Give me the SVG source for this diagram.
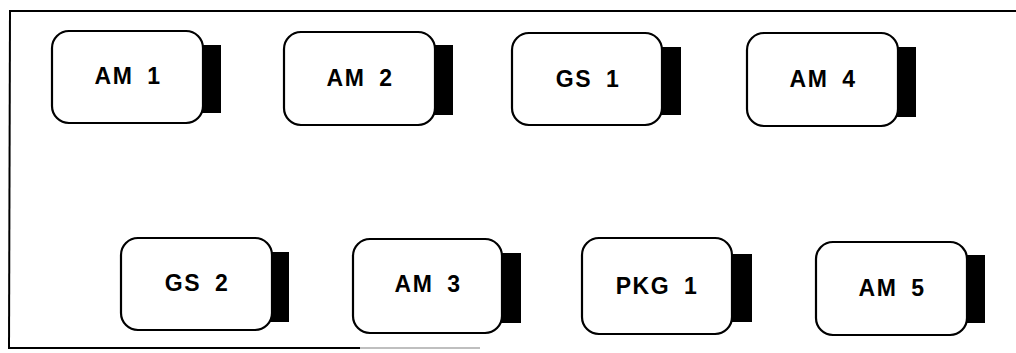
<svg xmlns="http://www.w3.org/2000/svg" width="1016" height="353" viewBox="0 0 1016 353">
<style>
.body{fill:#fff;stroke:#000;stroke-width:2.2}
.tab{fill:#000}
.lbl{font-family:"Liberation Sans",Arial,sans-serif;font-weight:bold;font-size:23px;letter-spacing:1.5px;word-spacing:6px;text-anchor:middle;fill:#000}
.frame{stroke:#000;stroke-width:2;fill:none}
</style>
<rect width="1016" height="353" fill="#fff"/>
<g id="frame">
<line class="frame" x1="9" y1="11" x2="1016" y2="11"/>
<line class="frame" x1="10" y1="10" x2="9" y2="349"/>
<line class="frame" x1="8" y1="348" x2="360" y2="348"/>
<line x1="360" y1="348" x2="480" y2="348" stroke="#aaa" stroke-width="1.5"/>
</g>
<g id="am1"><rect class="tab" x="201" y="45" width="20" height="68"/><rect class="body" x="52" y="31" width="151" height="92" rx="17"/><text class="lbl" x="128" y="84">AM 1</text></g>
<g id="am2"><rect class="tab" x="433" y="45" width="20" height="70"/><rect class="body" x="284" y="32" width="151" height="93" rx="17"/><text class="lbl" x="360" y="86">AM 2</text></g>
<g id="gs1"><rect class="tab" x="660" y="47" width="21" height="68"/><rect class="body" x="512" y="33" width="150" height="92" rx="17"/><text class="lbl" x="588" y="87">GS 1</text></g>
<g id="am4"><rect class="tab" x="896" y="47" width="20" height="70"/><rect class="body" x="747" y="33" width="151" height="93" rx="17"/><text class="lbl" x="823" y="87">AM 4</text></g>
<g id="gs2"><rect class="tab" x="270" y="252" width="19" height="70"/><rect class="body" x="121" y="238" width="151" height="92" rx="17"/><text class="lbl" x="197" y="291">GS 2</text></g>
<g id="am3"><rect class="tab" x="500" y="253" width="21" height="70"/><rect class="body" x="353" y="239" width="149" height="94" rx="17"/><text class="lbl" x="428" y="292">AM 3</text></g>
<g id="pkg1"><rect class="tab" x="730" y="254" width="22" height="68"/><rect class="body" x="582" y="238" width="150" height="96" rx="17"/><text class="lbl" x="657" y="294">PKG 1</text></g>
<g id="am5"><rect class="tab" x="965" y="255" width="20" height="68"/><rect class="body" x="816" y="242" width="151" height="93" rx="17"/><text class="lbl" x="892" y="296">AM 5</text></g>
<g id="connectors"></g>
</svg>
